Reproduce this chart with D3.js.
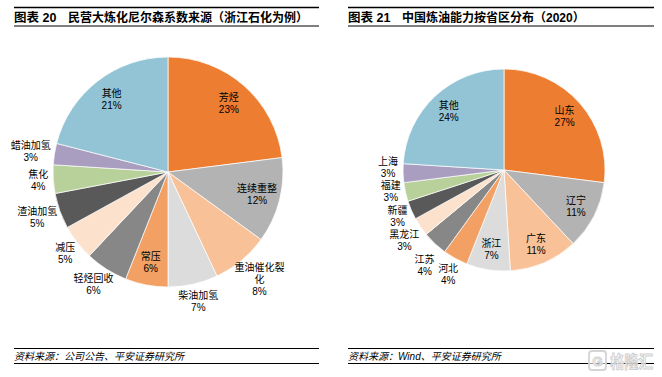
<!DOCTYPE html>
<html><head><meta charset="utf-8">
<script src="https://cdn.jsdelivr.net/npm/d3@7"></script>
<style>
html,body{margin:0;padding:0;background:#fff;}
svg{display:block;}
text{font-family:"Liberation Sans","Noto Sans CJK SC",sans-serif;}
</style></head>
<body>
<svg id="c" width="662" height="377"></svg>
<script>
// ---- data ----
const leftTitle = "图表 20";
const leftSubtitle = "民营大炼化尼尔森系数来源（浙江石化为例）";
const leftCategories = ["芳烃","连续重整","重油催化裂化","柴油加氢","常压","轻烃回收","减压","渣油加氢","焦化","蜡油加氢","其他"];
const leftValues = [23,12,8,7,6,6,5,5,4,3,21];
const leftSource = "资料来源：公司公告、平安证券研究所";

const rightTitle = "图表 21";
const rightSubtitle = "中国炼油能力按省区分布（2020）";
const rightCategories = ["山东","辽宁","广东","浙江","河北","江苏","黑龙江","新疆","福建","上海","其他"];
const rightValues = [27,11,11,7,4,4,3,3,3,3,24];
const rightSource = "资料来源：Wind、平安证券研究所";

// ---- style ----
const sliceColors = ["#ED7D31","#B3B3B3","#F8C197","#DCDCDC","#F3A064","#878787","#FCE1CC","#595959","#B8D19A","#A99DC0","#93C4D6"];
const leftInside = [true,true,false,false,true,false,false,false,false,false,true];
const rightInside = [true,true,true,true,false,false,false,false,false,false,true];
const leftLabelLines = {"重油催化裂化":["重油催化裂","化"]};

const svg = d3.select("#c");

function panel(opts){
  const g = svg.append("g");
  // title rules
  g.append("line").attr("x1",opts.x0).attr("x2",opts.x1).attr("y1",7.5).attr("y2",7.5).attr("stroke","#000").attr("stroke-width",1.3);
  g.append("line").attr("x1",opts.x0).attr("x2",opts.x1).attr("y1",26).attr("y2",26).attr("stroke","#000").attr("stroke-width",1.1);
  g.append("text").attr("x",opts.x0).attr("y",21.5).attr("font-size",12.5).attr("font-weight","bold")
    .attr("font-family","'Liberation Sans','Noto Sans CJK SC',sans-serif").text(opts.title);
  g.append("text").attr("x",opts.x0+54).attr("y",21.5).attr("font-size",12).attr("font-weight","bold")
    .attr("font-family","'Noto Sans CJK SC',sans-serif").text(opts.subtitle);
  // footer
  g.append("line").attr("x1",opts.x0).attr("x2",opts.x1).attr("y1",348.5).attr("y2",348.5).attr("stroke","#000").attr("stroke-width",1.1);
  g.append("line").attr("x1",opts.x0).attr("x2",opts.x1).attr("y1",363.5).attr("y2",363.5).attr("stroke","#000").attr("stroke-width",1.1);
  g.append("text").attr("x",opts.x0).attr("y",360).attr("font-size",10).attr("font-style","italic")
    .attr("font-family","'Noto Sans CJK SC',sans-serif").text(opts.source);

  // pie
  const data = opts.categories.map((c,i)=>({cat:c,value:opts.values[i],idx:i}));
  const pie = d3.pie().sort(null).value(d=>d.value).startAngle(0).endAngle(2*Math.PI);
  const arcs = pie(data);
  const R = opts.r;
  const arc = d3.arc().innerRadius(0).outerRadius(R);
  const pg = g.append("g").attr("transform",`translate(${opts.cx},${opts.cy})`);
  pg.selectAll("path").data(arcs).join("path")
    .attr("d",arc).attr("fill",d=>sliceColors[d.data.idx])
    .attr("stroke","#fff").attr("stroke-width",0.7);

  const lh = 12;
  const labels = [];
  arcs.forEach(a=>{
    const lines = (opts.lines && opts.lines[a.data.cat]) ? opts.lines[a.data.cat].slice() : [a.data.cat];
    lines.push(d3.format(".0f")(a.data.value)+"%");
    const mid = (a.startAngle+a.endAngle)/2;
    const s = Math.sin(mid), c = -Math.cos(mid);
    const w = d3.max(lines,l=>l.length*10)*0.9;
    const h = lines.length*lh;
    let x,y,out=false;
    if(opts.inside[a.data.idx]){
      x = s*R*0.8; y = c*R*0.8;
    } else {
      const ra = R+6;
      x = s*ra + s*w/2; y = c*ra + c*h/2; out=true;
    }
    labels.push({lines,x,y,h,w,out,side:s<0?-1:1});
  });
  // gentle de-overlap of outside labels on the same side
  [-1,1].forEach(side=>{
    const L = labels.filter(l=>l.out && l.side===side).sort((a,b)=>a.y-b.y);
    for(let it=0; it<40; it++){
      for(let i=0;i<L.length-1;i++){
        const A=L[i],B=L[i+1];
        const need=(A.h+B.h)/2+0.5;
        const xo = Math.abs(A.x-B.x) < (A.w+B.w)/2;
        const gap=B.y-A.y;
        if(xo && gap<need){ const d=(need-gap)/2; A.y-=d; B.y+=d; }
      }
    }
  });
  labels.forEach(lb=>{
    const t = pg.append("text").attr("text-anchor","middle").attr("font-size",10).attr("fill","#000");
    lb.lines.forEach((l,i)=>{
      t.append("tspan").attr("x",lb.x).attr("y",lb.y - lb.h/2 + lh*i + lh/2).attr("dominant-baseline","central").text(l);
    });
  });
}

panel({x0:14,x1:319,title:leftTitle,subtitle:leftSubtitle,source:leftSource,
  categories:leftCategories,values:leftValues,inside:leftInside,lines:leftLabelLines,
  cx:168,cy:172,r:115});
panel({x0:348,x1:654,title:rightTitle,subtitle:rightSubtitle,source:rightSource,
  categories:rightCategories,values:rightValues,inside:rightInside,
  cx:504,cy:170,r:101});

// watermark
const wm = svg.append("g");
wm.append("rect").attr("x",589).attr("y",351).attr("width",17).attr("height",19).attr("rx",3)
  .attr("fill","#fff").attr("fill-opacity",0.6).attr("stroke","#d4d4d4").attr("stroke-width",1.8);
wm.append("text").attr("x",597.5).attr("y",365.5).attr("text-anchor","middle").attr("font-size",13).attr("font-weight","bold")
  .attr("fill","#fff").attr("stroke","#d0d0d0").attr("stroke-width",1).text("G");
wm.append("text").attr("x",610).attr("y",368).attr("font-size",17).attr("font-weight","bold")
  .attr("textLength",43).attr("lengthAdjust","spacingAndGlyphs")
  .attr("font-family","'Noto Sans CJK SC',sans-serif")
  .attr("fill","#fff").attr("fill-opacity",0.7).attr("stroke","#d0d0d0").attr("stroke-width",1).text("格隆汇");
</script>
</body></html>
